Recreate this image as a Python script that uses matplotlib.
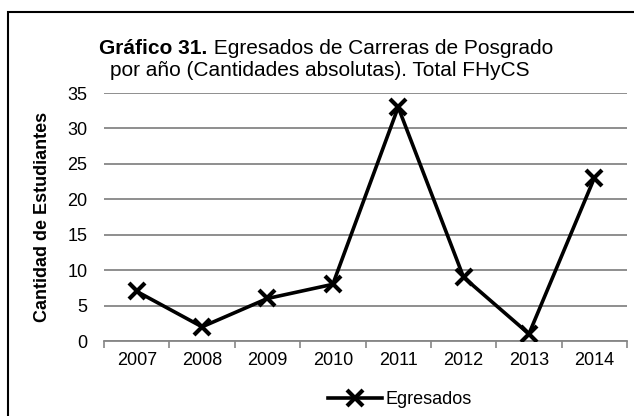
import numpy as np
import matplotlib
matplotlib.use('Agg')
import matplotlib.pyplot as plt
from matplotlib.patches import Rectangle

plt.rcParams['font.family'] = ['Liberation Sans', 'DejaVu Sans']

## data
years = ['2007', '2008', '2009', '2010', '2011', '2012', '2013', '2014']
egresados = [7, 2, 6, 8, 33, 9, 1, 23]
y_ticks = [0, 5, 10, 15, 20, 25, 30, 35]

grid_col = '#868686'

fig = plt.figure(figsize=(6.34, 4.16), dpi=100)
ax = fig.add_axes([104/634, 1-341/416, (627-104)/634, (341-93)/416])

x = np.arange(len(years))
ax.plot(x, egresados, color='black', lw=2.6, marker='x', ms=12, mew=3,
        label='Egresados', zorder=3)

ax.set_xlim(-0.5, len(years)-0.5)
ax.set_ylim(0, 35)
ax.set_yticks(y_ticks)
ax.set_xticks(x)
ax.set_xticklabels(years)
ax.set_xticks(np.arange(-0.5, len(years), 1), minor=True)
ax.tick_params(axis='x', which='major', length=0, pad=8, labelsize=13)
ax.tick_params(axis='x', which='minor', length=5, color=grid_col, width=1.2)
ax.tick_params(axis='y', length=0, pad=12, labelsize=13)
ax.yaxis.grid(True, color=grid_col, lw=1.3)
ax.set_axisbelow(True)
for s in ['left', 'right', 'top']:
    ax.spines[s].set_visible(False)
ax.spines['bottom'].set_color(grid_col)
ax.spines['bottom'].set_linewidth(1.3)

ax.set_ylabel('Cantidad de Estudiantes', fontsize=13, fontweight='bold', labelpad=12)

# title: bold part + normal part on line 1
fs = 15
r = fig.canvas.get_renderer()
t1 = fig.text(0, 0, 'Gráfico 31.', fontsize=fs, fontweight='bold', va='center')
t2 = fig.text(0, 0, ' Egresados de Carreras de Posgrado', fontsize=fs, va='center')
w1 = t1.get_window_extent(r).width
w2 = t2.get_window_extent(r).width
x0 = 326 - (w1 + w2) / 2
t1.set_position((x0/634, 1-48/416))
t2.set_position(((x0 + w1)/634, 1-48/416))
fig.text(320/634, 1-71/416, 'por año (Cantidades absolutas). Total FHyCS',
         ha='center', va='center', fontsize=fs)

fig.legend(loc='center', bbox_to_anchor=(400/634, 1-400/416), frameon=False,
           fontsize=13, handlelength=3.0, handletextpad=0.2)

# outer frame of the chart
fig.patches.append(Rectangle((8/634, -0.1), 1.2, 1-12/416+0.1, transform=fig.transFigure,
                             fill=False, edgecolor='black', lw=1.5))

fig.savefig('out.png', dpi=100)
